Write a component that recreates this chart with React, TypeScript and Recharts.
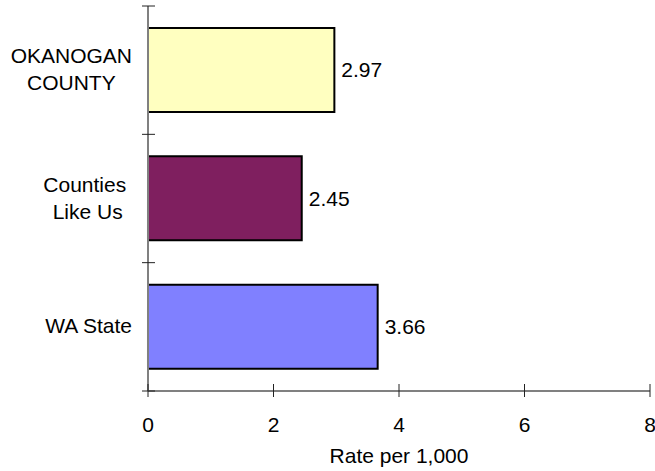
import React from "react";
import { BarChart, Bar, XAxis, YAxis, Cell, LabelList } from "recharts";

const categories = ["OKANOGAN COUNTY", "Counties Like Us", "WA State"];
const categoryLines = [["OKANOGAN", "COUNTY"], ["Counties ", "Like Us"], ["WA State"]];
const rates = [2.97, 2.45, 3.66];
const barColors = ["#FFFFC0", "#7F1F5F", "#8080FF"];
const xTicks = [0, 2, 4, 6, 8];
const xLabel = "Rate per 1,000";

const data = categories.map((c, i) => ({ name: c, value: rates[i] }));

const W = 655;
const H = 471;
const M = { top: 6, right: 5, bottom: 20, left: 0 };
const YAXIS_W = 148;
const XAXIS_H = 60;
const PLOT_H = H - M.top - M.bottom - XAXIS_H;
const BAND = PLOT_H / categories.length;
const FONT = "'Liberation Sans', Arial, sans-serif";
const FS = 21;

const XTick = (props: any) => {
  const { x, y, payload } = props;
  return (
    <g>
      <line x1={x} x2={x} y1={y - 7} y2={y + 6} stroke="#222" strokeWidth={1} />
      <text x={x} y={y + 41} textAnchor="middle" fontSize={FS} fontFamily={FONT} fill="#000">
        {payload.value}
      </text>
    </g>
  );
};

const XLabel = (props: any) => {
  const { viewBox } = props;
  const cx = viewBox.x + viewBox.width / 2;
  const by = viewBox.y + viewBox.height;
  return (
    <text x={cx} y={by + 12} textAnchor="middle" fontSize={FS} fontFamily={FONT} fill="#000">
      {xLabel}
    </text>
  );
};

const YTick = (props: any) => {
  const { x, y, index } = props;
  const lines: string[] = categoryLines[index] || [categories[index]];
  const top = y - BAND / 2;
  const bottom = y + BAND / 2;
  const lh = 26.7;
  return (
    <g>
      <line x1={x - 6} x2={x + 7} y1={top} y2={top} stroke="#222" strokeWidth={1} />
      {index === categories.length - 1 && (
        <line x1={x - 6} x2={x + 7} y1={bottom} y2={bottom} stroke="#222" strokeWidth={1} />
      )}
      <foreignObject x={0} y={y - 40} width={x - 16} height={80}>
        <div
          style={{
            display: "flex",
            justifyContent: "flex-end",
            alignItems: "center",
            height: "80px",
            width: "100%",
          }}
        >
          <div
            style={{
              textAlign: "center",
              fontFamily: FONT,
              fontSize: FS + "px",
              lineHeight: lh + "px",
              color: "#000",
              whiteSpace: "pre",
            }}
          >
            {lines.map((l, i) => (
              <div key={i}>{l}</div>
            ))}
          </div>
        </div>
      </foreignObject>
    </g>
  );
};

export default function App() {
  return (
    <div style={{ position: "absolute", left: 0, top: 0, width: W, height: H, background: "#fff" }}>
      <BarChart width={W} height={H} data={data} layout="vertical" margin={M}>
        <XAxis
          type="number"
          domain={[0, 8]}
          ticks={xTicks}
          interval={0}
          height={XAXIS_H}
          axisLine={{ stroke: "#808080", strokeWidth: 2 }}
          tickLine={false}
          tickSize={0}
          tickMargin={0}
          tick={<XTick />}
          label={<XLabel />}
        />
        <YAxis
          type="category"
          dataKey="name"
          width={YAXIS_W}
          axisLine={{ stroke: "#808080", strokeWidth: 2 }}
          tickLine={false}
          tickSize={0}
          tickMargin={0}
          tick={<YTick />}
          interval={0}
        />
        <Bar dataKey="value" barSize={84} stroke="#000" strokeWidth={2} isAnimationActive={false}>
          {data.map((d, i) => (
            <Cell key={i} fill={barColors[i]} />
          ))}
          <LabelList
            dataKey="value"
            position="right"
            offset={7}
            fontSize={FS}
            fontFamily={FONT}
            fill="#000"
            formatter={(v: any) => Number(v).toFixed(2)}
          />
        </Bar>
      </BarChart>
    </div>
  );
}
